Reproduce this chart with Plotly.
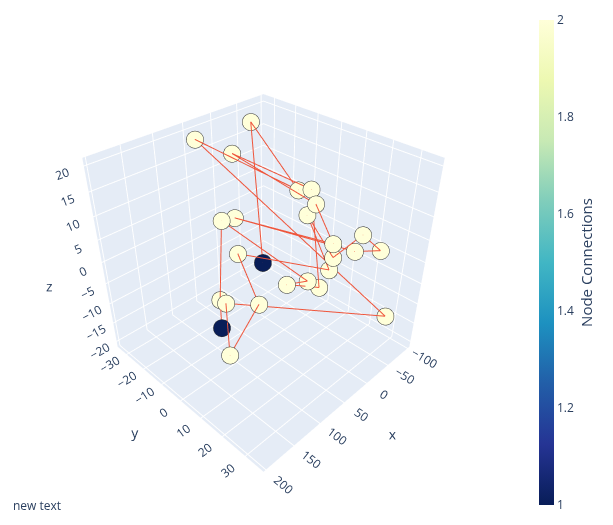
import plotly.graph_objects as go

# Node labels and 3D positions
node_names = ["T", "X", "N", "O", "P", "A", "B", "C", "D", "Q", "R", "S", "E",
              "F", "G", "H", "I", "J", "K", "L", "M", "U", "V", "W", "Z", "Y"]
node_x = [50.5, 134.6, -47.8, 52.1, 14.8, -12.9, -18.7, -8.2, 3.5, 85.5, 64.7, 80.1, -1.7,
          -28.0, -21.7, -47.9, -2.6, 0.0, 42.2, 17.4, 7.5, 112.3, 111.8, 93.8, -64.0, 150.5]
node_y = [0.9, 2.7, -28.1, -29.1, -21.6, 1.6, 5.8, 10.0, 9.1, -8.7, -8.1, -3.1, 18.9,
          25.1, 23.8, 29.0, 19.1, 18.4, 9.7, 13.3, 16.3, -3.7, -1.1, 9.5, 31.8, 10.4]
node_z = [0.0, -8.3, 19.0, 19.4, 16.3, 12.2, 13.0, 11.5, 9.7, 8.9, 8.4, 2.9, 5.8,
          7.7, 4.2, 4.1, 2.8, 0.0, -3.0, -2.9, -4.2, -5.6, -5.6, -3.7, -11.8, -10.6]
node_connections = [1, 1, 2, 2, 2, 2, 2, 2, 2, 2, 2, 2, 2,
                    2, 2, 2, 2, 2, 2, 2, 2, 2, 2, 2, 2, 2]

# Edges (source, target)
edge_source = ["N", "N", "O", "O", "P", "P", "Q", "U", "Q", "S", "S", "W", "V",
               "V", "F", "G", "F", "C", "B", "K", "R", "R", "D", "D", "K"]
edge_target = ["T", "A", "A", "Z", "B", "C", "U", "X", "L", "J", "W", "Y", "Z",
               "Y", "H", "H", "I", "E", "M", "L", "E", "G", "J", "I", "M"]

idx = {n: i for i, n in enumerate(node_names)}
ex, ey, ez = [], [], []
for a, b in zip(edge_source, edge_target):
    for n in (a, b):
        ex.append(node_x[idx[n]])
        ey.append(node_y[idx[n]])
        ez.append(node_z[idx[n]])
    ex.append(None)
    ey.append(None)
    ez.append(None)

fig = go.Figure()
fig.add_trace(go.Scatter3d(
    x=node_x, y=node_y, z=node_z, mode="markers", text=node_names, hoverinfo="text",
    marker=dict(size=10, color=node_connections, colorscale="YlGnBu", reversescale=True,
                line=dict(color="rgb(50,50,50)", width=0.5),
                colorbar=dict(thickness=15,
                              title=dict(text="Node Connections", side="right", font=dict(size=15)))),
    showlegend=False))
fig.add_trace(go.Scatter3d(
    x=ex, y=ey, z=ez, mode="lines", hoverinfo="none",
    line=dict(color="#EF553B", width=2), showlegend=False))

fig.update_layout(
    width=605, height=517,
    margin=dict(l=0, r=94, t=2, b=10),
    showlegend=False,
    scene=dict(
        xaxis=dict(range=[-105, 204], title=dict(text="x")),
        yaxis=dict(range=[-35.5, 37.5], title=dict(text="y")),
        zaxis=dict(range=[-21.5, 21.5], title=dict(text="z")),
        camera=dict(eye=dict(x=1.54, y=1.54, z=1.54)),
    ),
    annotations=[dict(text="new text", showarrow=False, xref="paper", yref="paper",
                      x=0.005, y=-0.002)],
)
fig.write_html("out.html")
